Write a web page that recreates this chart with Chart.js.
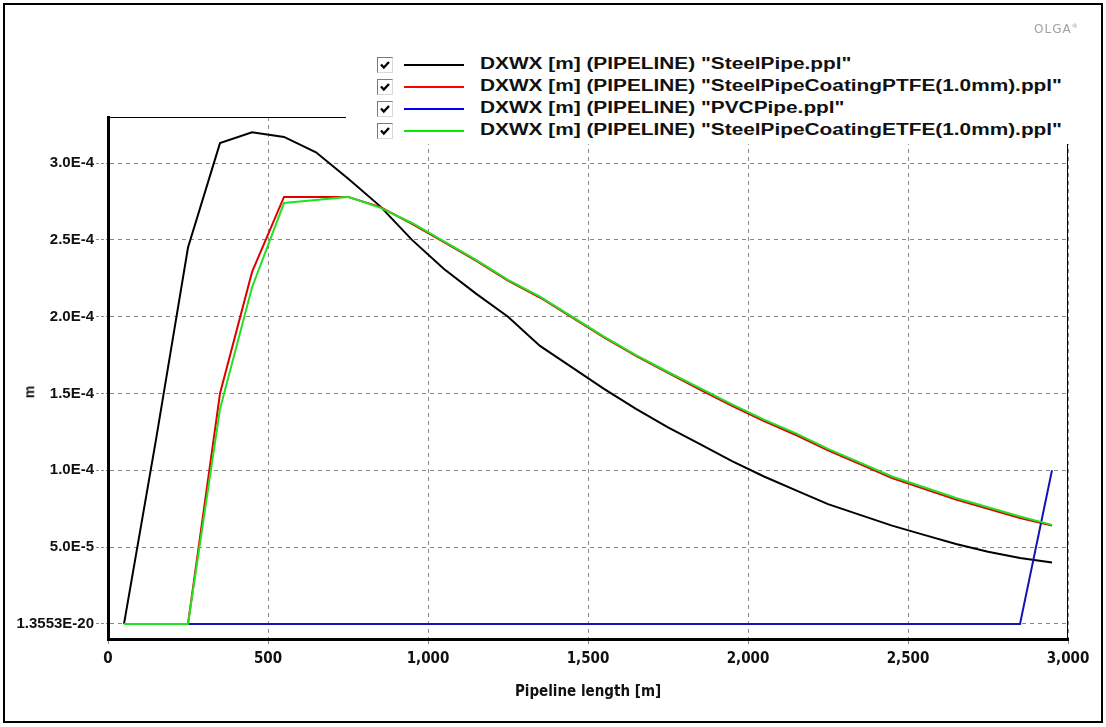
<!DOCTYPE html>
<html>
<head>
<meta charset="utf-8">
<script src="https://cdn.jsdelivr.net/npm/chart.js@4/dist/chart.umd.min.js"></script>
<style>
  html, body { margin: 0; padding: 0; background: #fff; }
  body { width: 1106px; height: 727px; position: relative; overflow: hidden; font-family: "Liberation Sans", Arial, sans-serif; }
  #wrap { position: absolute; left: 0; top: 0; width: 1106px; height: 727px; }
  #frame { position: absolute; left: 3px; top: 3px; width: 1096px; height: 716px; border: 2px solid #000; pointer-events: none; }
  #olga { position: absolute; left: 1034px; top: 22px; font-family: "DejaVu Sans", sans-serif; font-size: 12px; color: #a0a0a0; letter-spacing: 1px; }
  #olga sup { font-size: 6px; }
  #legend { position: absolute; left: 346px; top: 40px; width: 740px; height: 104px; background: #fff; }
  .row { position: absolute; left: 0; height: 22px; white-space: nowrap; }
  .cb { position: absolute; left: 31px; top: 3px; width: 14px; height: 14px; border: 1px solid #7a7a7a; border-right-color: #d8d8d8; border-bottom-color: #d8d8d8; background: #fff; }
  .ln { position: absolute; left: 58px; top: 10px; width: 60px; height: 2px; }
  .tx { position: absolute; left: 134px; top: 1px; font-weight: bold; font-size: 16px; color: #111; transform-origin: 0 50%; }
  #ytitle { position: absolute; left: 23px; top: 384px; font-weight: bold; font-size: 14px; transform: rotate(-90deg); transform-origin: 50% 50%; color: #111; }
</style>
</head>
<body>
<div id="wrap"><canvas id="c" width="1106" height="727"></canvas></div>
<div id="ytitle">m</div>
<div id="olga">OLGA<sup>®</sup></div>
<div id="legend"></div>
<div id="frame"></div>
<script>
// ---- data ----
const positions = [50,150,250,350,450,550,650,750,850,950,1050,1150,1250,1350,1450,1550,1650,1750,1850,1950,2050,2150,2250,2350,2450,2550,2650,2750,2850,2950];
const steelPipe = [0,1.20e-4,2.45e-4,3.13e-4,3.20e-4,3.17e-4,3.07e-4,2.90e-4,2.72e-4,2.50e-4,2.31e-4,2.15e-4,2.00e-4,1.81e-4,1.67e-4,1.53e-4,1.40e-4,1.28e-4,1.17e-4,1.06e-4,0.96e-4,0.87e-4,0.78e-4,0.71e-4,0.64e-4,0.58e-4,0.52e-4,0.47e-4,0.43e-4,0.40e-4];
const steelPTFE = [0,0,0,1.50e-4,2.29e-4,2.78e-4,2.78e-4,2.78e-4,2.715e-4,2.605e-4,2.485e-4,2.365e-4,2.235e-4,2.125e-4,1.995e-4,1.865e-4,1.745e-4,1.635e-4,1.525e-4,1.42e-4,1.32e-4,1.23e-4,1.13e-4,1.04e-4,0.95e-4,0.88e-4,0.81e-4,0.75e-4,0.69e-4,0.64e-4];
const pvcPipe   = [0,0,0,0,0,0,0,0,0,0,0,0,0,0,0,0,0,0,0,0,0,0,0,0,0,0,0,0,0,1.0e-4];
const steelETFE = [0,0,0,1.40e-4,2.19e-4,2.74e-4,2.76e-4,2.78e-4,2.71e-4,2.61e-4,2.49e-4,2.37e-4,2.24e-4,2.13e-4,2.00e-4,1.87e-4,1.75e-4,1.64e-4,1.535e-4,1.43e-4,1.33e-4,1.24e-4,1.14e-4,1.05e-4,0.96e-4,0.89e-4,0.82e-4,0.76e-4,0.70e-4,0.645e-4];
const seriesNames = [
  'DXWX [m] (PIPELINE) "SteelPipe.ppl"',
  'DXWX [m] (PIPELINE) "SteelPipeCoatingPTFE(1.0mm).ppl"',
  'DXWX [m] (PIPELINE) "PVCPipe.ppl"',
  'DXWX [m] (PIPELINE) "SteelPipeCoatingETFE(1.0mm).ppl"'
];
const seriesColors = ['#000000', '#e00000', '#1414b4', '#22e022'];
const legendColors = ['#000000', '#ff0000', '#0000ff', '#00ee00'];
const xTickValues = [0,500,1000,1500,2000,2500,3000];
const xTickLabels = ['0','500','1,000','1,500','2,000','2,500','3,000'];
const yTickValues = [0,5e-5,1e-4,1.5e-4,2e-4,2.5e-4,3e-4];
const yTickLabels = ['1.3553E-20','5.0E-5','1.0E-4','1.5E-4','2.0E-4','2.5E-4','3.0E-4'];
const xTitle = 'Pipeline length [m]';

// ---- legend (HTML) ----
const leg = document.getElementById('legend');
const checkSvg = '<svg width="14" height="14" viewBox="0 0 14 14" style="display:block"><polyline points="3,6.5 5.8,9.5 11,4" fill="none" stroke="#000" stroke-width="2.3"/></svg>';
const txs = [];
seriesNames.forEach((n, i) => {
  const r = document.createElement('div');
  r.className = 'row';
  r.style.top = (14 + i * 22) + 'px';
  r.innerHTML = '<div class="cb">' + checkSvg + '</div><div class="ln" style="background:' + legendColors[i] + '"></div><div class="tx"></div>';
  r.querySelector('.tx').textContent = n;
  leg.appendChild(r);
  txs.push(r.querySelector('.tx'));
});
const widest = txs[1].getBoundingClientRect().width;
const k = 582 / widest;
txs.forEach(t => t.style.transform = 'scaleX(' + k + ')');

const mk = arr => positions.map((x, i) => ({ x: x, y: arr[i] }));
const datasets = [steelPipe, steelPTFE, pvcPipe, steelETFE].map((arr, i) => ({
  label: seriesNames[i],
  data: mk(arr),
  borderColor: seriesColors[i],
  backgroundColor: seriesColors[i],
  borderWidth: 2,
  pointRadius: 0,
  tension: 0,
  fill: false,
  order: [3, 2, 1, 0][i]
}));

const boxPlugin = {
  id: 'box',
  beforeDatasetsDraw(chart) {
    const { ctx, chartArea: a } = chart;
    ctx.save();
    ctx.strokeStyle = '#000';
    ctx.lineWidth = 1;
    ctx.beginPath();
    ctx.moveTo(a.left, a.top + 0.5);
    ctx.lineTo(a.right, a.top + 0.5);
    ctx.moveTo(a.right - 0.5, a.top);
    ctx.lineTo(a.right - 0.5, a.bottom);
    ctx.stroke();
    ctx.restore();
  }
};

const narrowFont = '"Liberation Sans Narrow", "DejaVu Sans Condensed", sans-serif';
new Chart(document.getElementById('c'), {
  type: 'line',
  data: { datasets },
  plugins: [boxPlugin],
  options: {
    responsive: false,
    animation: false,
    events: [],
    layout: { padding: { left: 0, top: 117, right: 38, bottom: 26 } },
    plugins: { legend: { display: false }, tooltip: { enabled: false } },
    scales: {
      x: {
        type: 'linear', min: 0, max: 3000,
        afterBuildTicks: s => { s.ticks = xTickValues.map(v => ({ value: v })); },
        afterFit: s => { s.height = 62; },
        ticks: {
          callback: (v) => xTickLabels[xTickValues.indexOf(v)],
          font: { family: narrowFont, size: 15, weight: 'bold' },
          color: '#111', padding: 5, maxRotation: 0, autoSkip: false
        },
        grid: { color: '#8a8a8a', lineWidth: 1, tickLength: 6, tickColor: '#8a8a8a', tickBorderDash: [3, 2] },
        border: { display: true, color: '#000', width: 3, dash: [4, 4] },
        title: { display: true, text: xTitle, font: { family: narrowFont, size: 15, weight: 'bold' }, color: '#111', padding: { top: 0, bottom: 0 } }
      },
      y: {
        type: 'linear', min: -0.98e-5, max: 3.3e-4,
        afterBuildTicks: s => { s.ticks = yTickValues.map(v => ({ value: v })); },
        afterFit: s => { s.width = 108; },
        ticks: {
          callback: (v) => yTickLabels[yTickValues.indexOf(v)],
          font: { family: '"Liberation Sans", Arial, sans-serif', size: 15, weight: 'bold' },
          color: '#111', padding: 2, autoSkip: false
        },
        grid: { color: '#8a8a8a', lineWidth: 1, tickLength: 12, tickColor: '#8a8a8a', tickBorderDash: [3, 2] },
        border: { display: true, color: '#000', width: 3, dash: [4, 4] }
      }
    }
  }
});
</script>
</body>
</html>
